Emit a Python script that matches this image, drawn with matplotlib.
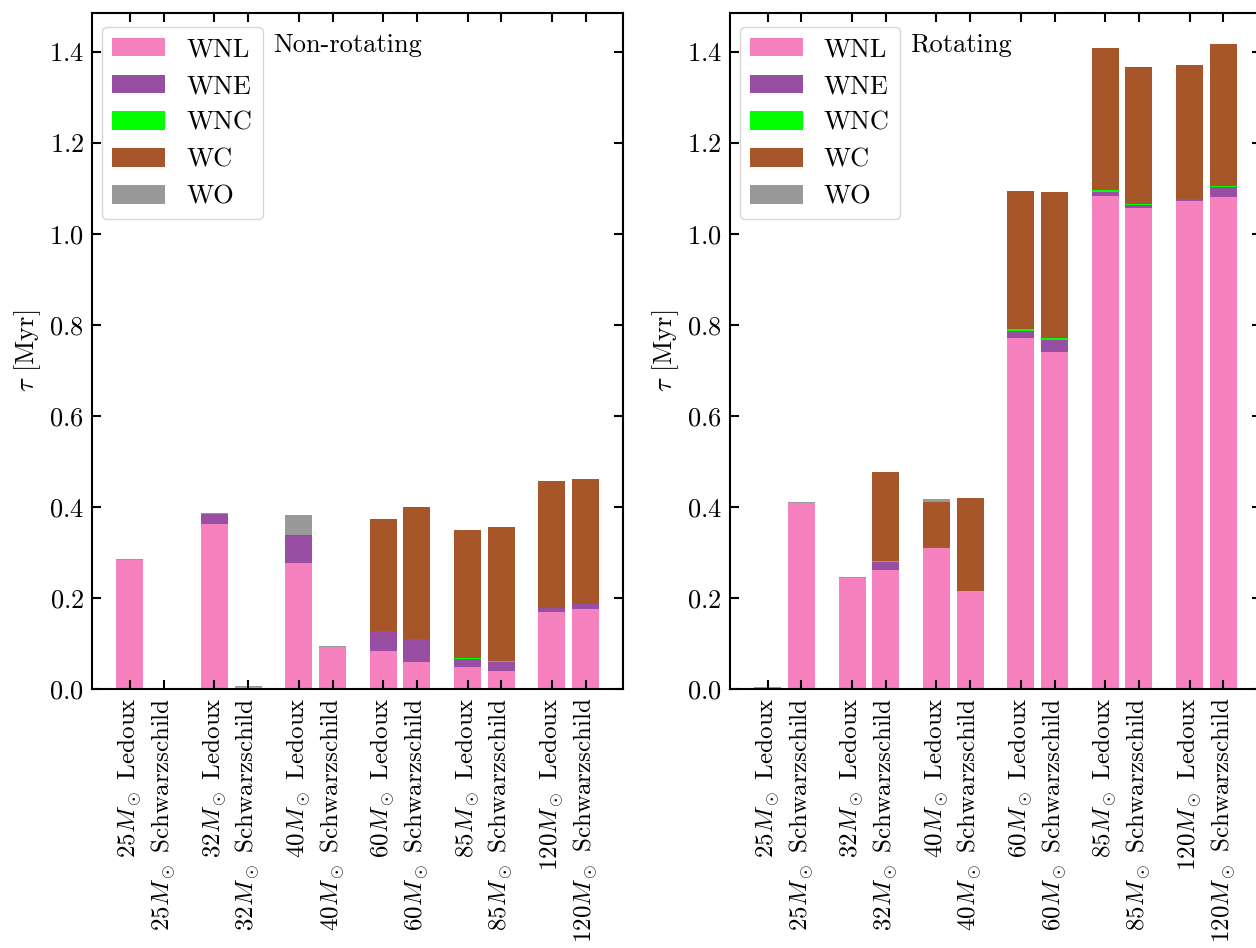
import numpy as np
import matplotlib
matplotlib.use("Agg")
import matplotlib.pyplot as plt

plt.rcParams.update({
    "font.family": "serif",
    "font.serif": ["cmr10"],
    "mathtext.fontset": "cm",
    "axes.formatter.use_mathtext": True,
    "axes.unicode_minus": False,
    "font.size": 19,
    "xtick.labelsize": 18,
    "axes.linewidth": 1.5,
    "xtick.direction": "in",
    "ytick.direction": "in",
    "xtick.top": True,
    "ytick.right": True,
    "xtick.major.size": 6.5,
    "ytick.major.size": 6.5,
    "xtick.major.width": 1.5,
    "ytick.major.width": 1.5,
    "xtick.major.pad": 6,
    "ytick.major.pad": 6,
})

masses = [25, 32, 40, 60, 85, 120]
criteria = ["Ledoux", "Schwarzschild"]
phases = ["WNL", "WNE", "WNC", "WC", "WO"]
colors = ["#f781bf", "#984ea3", "#00ff00", "#a65628", "#999999"]

# phase durations in Myr, one entry per model (mass x criterion)
nonrot_wnl = [0.284, 0.0, 0.363, 0.004, 0.277, 0.093, 0.084, 0.060, 0.049, 0.040, 0.170, 0.176]
nonrot_wne = [0.0, 0.0, 0.023, 0.0, 0.060, 0.0, 0.044, 0.050, 0.017, 0.021, 0.009, 0.012]
nonrot_wnc = [0.0, 0.0, 0.0, 0.0, 0.0, 0.0, 0.0, 0.0, 0.002, 0.002, 0.0, 0.0]
nonrot_wc = [0.0, 0.0, 0.0, 0.0, 0.002, 0.0, 0.246, 0.290, 0.282, 0.293, 0.278, 0.274]
nonrot_wo = [0.002, 0.0, 0.002, 0.003, 0.044, 0.003, 0.0, 0.0, 0.0, 0.0, 0.0, 0.0]

rot_wnl = [0.003, 0.409, 0.245, 0.262, 0.311, 0.216, 0.771, 0.741, 1.084, 1.057, 1.072, 1.081]
rot_wne = [0.0, 0.0, 0.0, 0.017, 0.001, 0.0, 0.016, 0.026, 0.008, 0.006, 0.004, 0.023]
rot_wnc = [0.0, 0.0, 0.0, 0.003, 0.0, 0.0, 0.004, 0.004, 0.004, 0.002, 0.002, 0.002]
rot_wc = [0.0, 0.0, 0.0, 0.195, 0.099, 0.204, 0.303, 0.321, 0.312, 0.302, 0.293, 0.311]
rot_wo = [0.002, 0.002, 0.002, 0.0, 0.007, 0.0, 0.0, 0.0, 0.0, 0.0, 0.0, 0.0]

labels = [rf"${m}M_\odot$ {c}" for m in masses for c in criteria]
xpos = np.array([i * 2.5 + j for i in range(len(masses)) for j in range(2)], dtype=float)


def stacked(ax, series, title):
    bottom = np.zeros(len(xpos))
    for name, vals, col in zip(phases, series, colors):
        vals = np.asarray(vals)
        ax.bar(xpos, vals, bottom=bottom, color=col, label=name, width=0.8)
        bottom += vals
    ax.set_xticks(xpos)
    ax.set_xticklabels(labels, rotation=90)
    ax.set_ylim(0, 1.485)
    ax.set_yticks(np.arange(0, 1.41, 0.2))
    ax.set_ylabel(r"$\tau$ [Myr]")
    ax.legend(loc="upper left", bbox_to_anchor=(0.018, 0.980), borderaxespad=0,
              labelspacing=0.5)
    ax.text(0.340, 0.943, title, transform=ax.transAxes, va="baseline", ha="left")


fig = plt.figure(figsize=(12.56, 9.48), dpi=100)
ax1 = fig.add_axes([0.0735, 0.2729, 0.4228, 0.7131])
ax2 = fig.add_axes([0.5812, 0.2729, 0.4228, 0.7131])

stacked(ax1, [nonrot_wnl, nonrot_wne, nonrot_wnc, nonrot_wc, nonrot_wo], "Non-rotating")
stacked(ax2, [rot_wnl, rot_wne, rot_wnc, rot_wc, rot_wo], "Rotating")

fig.savefig("out.png", dpi=100)
